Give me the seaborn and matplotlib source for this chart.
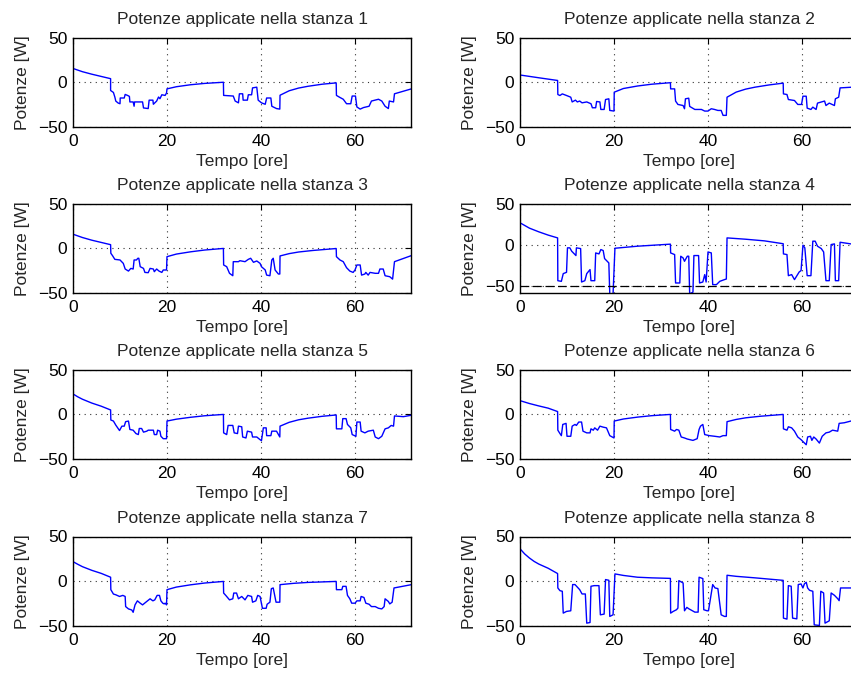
import matplotlib
matplotlib.use("Agg")
import matplotlib.pyplot as plt
import seaborn as sns
import pandas as pd

# Power applied in each room [W] over time [hours], as (time, power) breakpoints
stanza1 = [(0, 15.4), (2, 11.8), (4, 9.0), (6, 6.5), (8, 4.0),
           (8.0, -9.2), (8.6, -11.4), (8.9, -16.5), (9.1, -21), (9.6, -23.2), (10, -24),
           (10.05, -17.6), (10.9, -17.6), (11.1, -13.6), (11.6, -14.7), (12.0, -15.8), (12.1, -22),
           (12.8, -22), (13.0, -26.8), (13.1, -22), (14.8, -22), (15, -28.7), (16, -29.4), (16.2, -20),
           (17, -20), (17.1, -24.6), (17.8, -21), (18.2, -16.5), (18.5, -18.4), (18.9, -14),
           (19.6, -14.7), (19.9, -12),
           (20, -7.4), (22, -5.0), (25, -2.8), (28, -1.3), (32, 0),
           (32.05, -14.7), (34.1, -15.4), (34.5, -21), (35.2, -23), (35.4, -12.9), (36.1, -12.9),
           (36.2, -20), (37.1, -20), (37.3, -14), (38.0, -14), (38.2, -6.3), (39.1, -5.5),
           (39.4, -20), (40.1, -23), (40.9, -24.6), (41.2, -17.6), (42.1, -17.6), (42.3, -26.8),
           (43.3, -29.4), (44.0, -30),
           (44.05, -14.5), (46, -9.5), (48, -6.5), (50, -4.5), (53, -2.2), (56, -0.7),
           (56.05, -14.7), (56.8, -17), (57.5, -19), (58.2, -24), (59.1, -24), (59.4, -15.4),
           (60.1, -15.4), (60.4, -27.6), (61.1, -30), (61.8, -28.3), (63, -26.8), (63.5, -21),
           (65, -19), (65.7, -21), (66.4, -26.8), (67.1, -29.4), (67.3, -21), (68.2, -22),
           (68.4, -12.9), (72, -7.4)]

stanza2 = [(0, 8.1), (4, 5.0), (8, 2.0),
           (8.05, -13.7), (8.5, -14.8), (9, -13), (9.9, -14.8), (10.8, -16.7), (11.1, -22),
           (11.8, -20), (12.2, -22), (12.7, -21), (13.2, -23), (14.2, -22), (15.1, -24),
           (15.4, -28.5), (16.1, -28.5), (16.3, -21.5), (17, -22), (17.2, -30.4), (17.9, -30.4),
           (18.2, -19.3), (18.9, -18.5), (19.1, -31.5), (20, -32.2),
           (20.05, -11.1), (22, -7.0), (25, -4.2), (28, -2.2), (32, -0.5),
           (32.05, -7.4), (32.9, -7.4), (33.1, -21), (33.6, -24.8), (34.7, -26), (35, -29.6),
           (35.2, -18.5), (35.9, -17.8), (36.1, -27), (37.2, -30.4), (38.6, -30.4), (39.3, -32.2),
           (40, -32.2), (40.7, -29.6), (41.4, -30.4), (42.1, -31.5), (42.8, -31.5), (43.2, -37),
           (43.9, -37),
           (44.05, -16.7), (46, -11), (48, -7.7), (50, -5.5), (53, -3.0), (56, -1.0),
           (56.05, -13), (56.8, -13.7), (57.1, -19.3), (58.4, -20.4), (59.1, -24.8), (59.9, -24.8),
           (60.2, -15.6), (60.9, -15.6), (61.1, -28.9), (61.9, -30.4), (62.3, -27.8), (63, -30.4),
           (63.3, -23.3), (64.8, -21), (65.1, -26), (65.8, -23.3), (66.9, -26), (67.1, -18.5),
           (67.8, -16.7), (68.1, -6.3), (70.4, -5.6), (72, -5.5)]

stanza3 = [(0, 15.7), (2, 12.0), (4, 9.0), (6, 6.5), (8, 4.0),
           (8.05, -5.6), (8.4, -8.2), (8.9, -12.4), (10, -13.1), (10.7, -16.9), (11.1, -23.2),
           (11.8, -25.5), (12.3, -22.5), (12.8, -23.2), (13, -13.1), (13.5, -13.1), (13.8, -11.2),
           (14.0, -11.2), (14.3, -20.6), (15, -22.5), (15.3, -27), (16, -27.3), (16.4, -22.5),
           (17.1, -23.2), (17.3, -26.2), (17.8, -23.2), (18.3, -25.5), (18.9, -27), (19.2, -24.3),
           (19.9, -24.3),
           (20, -9.4), (22, -6.5), (25, -4.0), (28, -2.0), (32, -0.2),
           (32.05, -18.7), (32.7, -20.6), (33.3, -28), (34, -30.7), (34.1, -15), (35.2, -15),
           (35.5, -13.9), (36.6, -15), (37.3, -12.4), (37.8, -11.2), (38.4, -15.7), (39.1, -14.2),
           (39.8, -16.9), (40.1, -20.6), (40.9, -24.3), (41.2, -30), (41.9, -30.7), (42.3, -13.1),
           (42.6, -11.2), (43, -24.3), (43.7, -28.8), (44, -28.8),
           (44.05, -8.6), (46, -6.0), (48, -4.2), (51, -2.5), (56, -0.3),
           (56.05, -9.4), (56.8, -13.1), (57.5, -15), (58.2, -21.7), (58.9, -25.5), (59.6, -27),
           (60, -24.3), (60.4, -18.7), (61.1, -18.7), (61.4, -30), (62.1, -28.8), (62.3, -27),
           (62.8, -30), (63.2, -27), (64.3, -28), (65, -28), (65.3, -23.2), (66, -23.2),
           (66.4, -30.7), (67.4, -31.8), (68, -34.5), (68.4, -15), (72, -8.2)]

stanza4 = [(0, 0), (0, 26.5), (2, 20), (4, 15.5), (6, 11.5), (8, 8.1),
           (8.05, -44), (8.8, -44.8), (9.2, -35.4), (9.9, -33.8), (10.1, -4), (10.6, -4),
           (11, -8.1), (11.9, -13.4), (12, -4), (12.9, -4.9), (13.1, -45.6), (13.8, -44),
           (14.2, -35.4), (14.9, -30.5), (15.1, -44), (15.9, -44), (16.1, -10.2), (16.8, -11.4),
           (17.2, -6.1), (17.7, -7.3), (18, -17.1), (18.9, -22.4), (19.1, -60), (19.8, -60),
           (20.2, -4.5), (25, -2.0), (32, 0.5),
           (32.05, -10.2), (32.9, -12.2), (33.1, -46.8), (34, -46.8), (34.2, -14.2), (34.7, -16.3),
           (35, -20.4), (35.6, -14.2), (35.9, -14.2), (36.1, -60), (36.8, -58), (37, -13.4),
           (38, -13.4), (38.2, -46.8), (38.9, -45.6), (39.3, -36.6), (39.6, -45.6), (40, -9),
           (40.7, -10.2), (41, -48.8), (41.8, -48.8), (42.5, -44.8), (43.5, -42.7), (43.9, -42),
           (44.05, 8.1), (48, 6.5), (52, 4.5), (56, 1.0),
           (56.05, -11.4), (56.8, -12.2), (57.1, -37.9), (57.8, -36.6), (58.4, -42.7),
           (59.4, -33.4), (59.8, -31.7), (60.2, -0.8), (60.6, -4), (61.1, -37.9), (61.9, -37.9),
           (62.3, 4.1), (62.8, 4.1), (63.3, -2), (64.1, -4.9), (64.6, -9), (65.1, -44),
           (65.8, -44), (66.2, 0), (66.9, 0.8), (67.1, -44), (67.8, -44), (68.1, 2.8),
           (70.4, 0.8), (72, 0.5)]

stanza5 = [(0, 22.7), (1, 19.5), (2, 16.8), (4, 12.5), (6, 9.0), (8, 4.8),
           (8.05, -6.4), (8.6, -7.6), (9.1, -12.1), (9.4, -14.4), (9.9, -18.2), (10.4, -13.3),
           (10.9, -13.3), (11.2, -8.3), (11.8, -7.6), (12.1, -17), (12.8, -17.8), (13.4, -21.6),
           (13.9, -22.7), (14.1, -15.9), (14.6, -15.9), (15, -20), (15.7, -18.9), (16, -17.8),
           (17.1, -17.8), (17.3, -22.7), (17.8, -22.7), (18, -17.8), (18.5, -18.9), (18.7, -24.6),
           (19.2, -27.3), (19.9, -27.3),
           (20, -7.6), (22, -5.5), (25, -3.4), (28, -1.7), (32, -0.2),
           (32.05, -20.8), (32.7, -22.7), (33, -12.5), (34, -12.5), (34.3, -20.8), (35, -21.6),
           (35.2, -13.3), (35.9, -14), (36.1, -25.4), (36.8, -26.5), (37.1, -18.9), (38, -20),
           (38.2, -25.4), (39.1, -25.4), (39.8, -28.4), (40.1, -29.5), (40.5, -15.2),
           (41.1, -15.2), (41.2, -23.9), (42.1, -23.9), (42.3, -18.9), (43.3, -18.9), (44, -25.4),
           (44.05, -13.3), (46, -9.0), (48, -6.2), (50, -4.4), (53, -2.3), (56, -0.8),
           (56.05, -16.3), (57.2, -16.3), (57.4, -4.9), (58.1, -4.9), (58.4, -11.4), (59.1, -15.2),
           (59.4, -22.7), (60.2, -24.6), (60.4, -8.7), (61.1, -8.7), (61.3, -18.9), (62.1, -20.8),
           (62.8, -18.9), (63.9, -17.8), (64.3, -25.4), (65, -27.3), (65.7, -24.6), (66.4, -16.3),
           (67.1, -15.2), (67.7, -12.5), (68.2, -13.3), (68.4, -1.9), (70.3, -2.7), (72, -1.1)]

stanza6 = [(0, 0), (0, 15.2), (2, 12.0), (4, 9.3), (6, 6.8), (8, 3.0),
           (8.05, -17.8), (8.5, -21.6), (8.8, -23.9), (9.1, -11.4), (9.8, -10.2), (10, -24.6),
           (10.8, -24.6), (11.1, -13.3), (11.7, -11.4), (12, -12.5), (12.5, -8.7), (13.1, -8.7),
           (13.4, -18.9), (14.2, -20.8), (14.9, -20.8), (15.1, -16.3), (15.6, -17.8),
           (15.9, -15.2), (16.5, -17.8), (17, -13.3), (17.7, -14.4), (18.4, -15.2), (19.1, -23.9),
           (20, -26.5),
           (20.05, -7.6), (22, -5.3), (25, -3.2), (28, -1.6), (32, -0.2),
           (32.05, -17), (32.9, -18.9), (33.3, -17), (33.8, -17.8), (34.3, -25.4), (35, -26.5),
           (35.6, -27.7), (36.8, -29.2), (37.7, -27.3), (38.1, -17), (38.4, -13.3), (38.9, -11.4),
           (39.3, -22.7), (40.3, -23.9), (41.4, -24.6), (42.5, -25.4), (43.2, -23.9), (43.9, -23.9),
           (44.05, -8.3), (46, -5.8), (48, -4.0), (51, -2.3), (56, -0.2),
           (56.05, -16.3), (56.8, -17.8), (57.1, -14), (57.8, -15.2), (58.4, -18.9), (59.1, -25.4),
           (59.8, -28.4), (60.9, -34.1), (61.2, -25.4), (61.8, -24.6), (62.1, -29.2), (62.5, -25.4),
           (63, -27.7), (63.7, -32.2), (64.3, -24.6), (65.1, -20.8), (65.8, -20), (66.5, -17.8),
           (67.6, -18.9), (67.9, -10.2), (69, -9.5), (70.4, -7.6), (72, -6.5)]

stanza7 = [(0, 21.9), (1, 19), (2, 16.3), (4, 12.2), (6, 8.8), (8, 4.5),
           (8.05, -9.4), (8.6, -14.3), (9.1, -15.1), (9.9, -17), (10.6, -15.8), (11.1, -17),
           (11.2, -28.3), (11.8, -30.9), (12.5, -32.1), (12.8, -34.7), (13.2, -26.4),
           (13.7, -21.9), (14.3, -24.5), (14.8, -26.4), (15.5, -23.4), (16.4, -19.6), (17, -21.9),
           (17.4, -20.8), (17.9, -15.8), (18.4, -15.8), (18.7, -21.9), (19.1, -24.5),
           (19.4, -25.3), (19.6, -24.5), (19.9, -26.4),
           (20, -9.4), (22, -6.5), (25, -4.0), (28, -2.0), (32, -0.2),
           (32.05, -13.2), (32.5, -15.8), (33.3, -20.8), (34, -19.6), (34.2, -13.2), (34.8, -13.2),
           (35.2, -19.6), (35.9, -17), (36.6, -20.8), (37.2, -15.8), (38, -17), (38.2, -23.4),
           (38.9, -21.9), (39.3, -15.8), (39.8, -17), (40.3, -30.2), (41.1, -30.2), (41.3, -25.7),
           (41.9, -23.4), (42.2, -8.3), (42.6, -7.5), (43.2, -23.4), (44, -23.4),
           (44.05, -3.8), (47, -2.3), (50, -1.3), (56, -0.2),
           (56.05, -9.4), (57.2, -9.4), (57.4, -5.7), (58.1, -5.7), (58.4, -15.8), (58.9, -19.6),
           (59.3, -24.5), (60, -24.5), (60.4, -21.9), (61.1, -21.9), (61.3, -17), (61.9, -18.1),
           (62.3, -24.5), (63, -25.7), (63.5, -28.3), (64.3, -28.3), (65, -30.2), (65.7, -30.9),
           (66.2, -28.3), (66.4, -19.6), (67.1, -22.6), (67.4, -25.3), (67.9, -23.4),
           (68.3, -7.5), (72, -3.8)]

stanza8 = [(0, 0), (0, 36.3), (1, 30.5), (2, 26), (3, 22.2), (4, 19.2), (6, 14.5), (8, 8.6),
           (8.05, -7.5), (8.5, -10.5), (9, -11.2), (9.2, -35.6), (9.9, -33.7), (10.8, -33),
           (11.2, -3.7), (11.7, -3.7), (12.7, -9.4), (13.2, -14.2), (13.9, -14.2), (14.2, -46.8),
           (14.9, -46.1), (15.1, -5.6), (15.8, -4.9), (16.8, -4.9), (17.1, -37.5), (17.9, -36.7),
           (18.2, 1.9), (18.9, 1.1), (19.1, -39.3), (19.8, -37.5),
           (20.2, 8.2), (22, 6.5), (25, 4.5), (28, 3.8), (32, 3.2),
           (32.05, -35.6), (32.6, -33.7), (33.3, -31.8), (33.6, -30), (33.8, 0.7), (34.7, -1.9),
           (35, -33), (35.5, -29.2), (35.9, -30.7), (37.2, -34.5), (37.9, -34.5), (38.1, 4.5),
           (38.9, 3), (39.1, -31.8), (39.8, -33), (40.1, -33), (41, -3.7), (41.5, -7.5),
           (42.1, -8.2), (42.8, -37.5), (43.5, -39.3), (43.9, -39.3),
           (44.05, 6.7), (46, 5.5), (50, 3.8), (56, 1.0),
           (56.05, -41.2), (56.8, -42.3), (57.1, -4.9), (57.7, -5.6), (58, -41.2), (58.9, -42),
           (59.2, -3.7), (59.8, -3), (60.2, -7.5), (60.5, -3), (60.9, -1.1), (61.2, -7.5),
           (61.6, -10.1), (62.3, -11.2), (62.6, -48.7), (63.7, -49.4), (64, -11.2), (64.6, -13.1),
           (64.9, -46.8), (65.8, -44.2), (66.2, -13.1), (66.9, -15.7), (67.6, -19.5),
           (67.9, -21.7), (68.2, -7.5), (70.4, -7.5), (72, -7.5)]

stanze = [stanza1, stanza2, stanza3, stanza4, stanza5, stanza6, stanza7, stanza8]
limite_stanza4 = -50          # lower power bound drawn in room 4
ylim_stanza4 = (-59, 50)

sns.set_style("white")
plt.rcParams["font.family"] = ["Liberation Sans", "DejaVu Sans"]
plt.rcParams["axes.unicode_minus"] = True

fig = plt.figure(figsize=(8.51, 6.75), dpi=100)
W, H = 851.0, 675.0
col_left = [73.0, 520.0]
ax_w = 338.4
row_bottom = [127.0, 293.0, 459.0, 626.0]
ax_h = 89.5
fs = 12.5

for i, dati in enumerate(stanze):
    r, c = divmod(i, 2)
    ax = fig.add_axes([col_left[c] / W, (H - row_bottom[r]) / H, ax_w / W, ax_h / H])
    df = pd.DataFrame(dati, columns=["Tempo", "Potenza"])
    sns.lineplot(data=df, x="Tempo", y="Potenza", ax=ax, color="#0000ff",
                 linewidth=1.0, sort=False, estimator=None)
    if i == 3:
        ax.axhline(limite_stanza4, color="black", linewidth=0.9, linestyle=(0, (7, 3)))
        ax.set_ylim(*ylim_stanza4)
    else:
        ax.set_ylim(-50, 50)
    ax.set_xlim(0, 72)
    ax.set_xticks([0, 20, 40, 60])
    ax.set_yticks([-50, 0, 50])
    ax.grid(True, color="#333333", linestyle=(0, (1, 4)), linewidth=0.8)
    for s in ax.spines.values():
        s.set_visible(True)
        s.set_color("black")
        s.set_linewidth(1.0)
    ax.tick_params(axis="both", direction="in", length=4, width=0.8, top=True, right=True,
                   labelsize=fs, colors="black")
    ax.tick_params(axis="x", pad=5)
    ax.tick_params(axis="y", pad=4)
    ax.set_title(f"Potenze applicate nella stanza {i + 1}", fontsize=fs, pad=9.5)
    ax.set_xlabel("Tempo [ore]", fontsize=fs)
    ax.set_ylabel("Potenze [W]", fontsize=fs)
    ax.xaxis.set_label_coords(0.5, -0.30)
    ax.yaxis.set_label_coords(-0.128, 0.5)

fig.savefig("out.png", dpi=100, facecolor="white")
